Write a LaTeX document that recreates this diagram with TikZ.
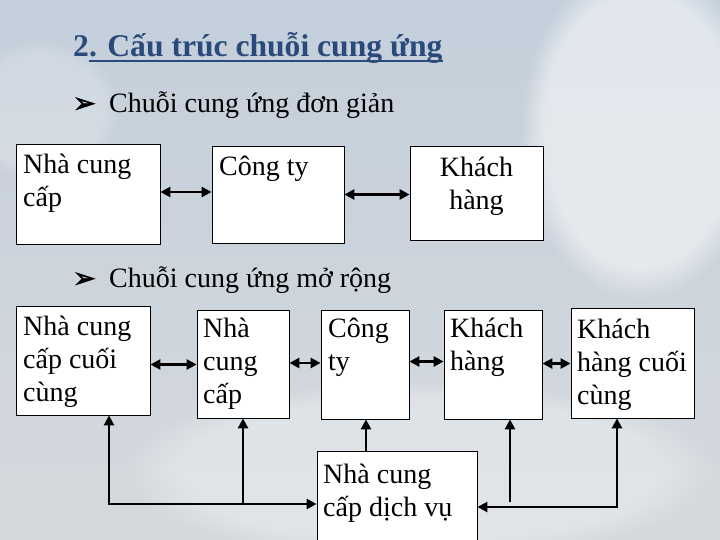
\documentclass[tikz,border=0pt]{standalone}
\usepackage{fontspec}
\setmainfont{Liberation Serif}
\newfontfamily\symbfont{DejaVu Sans}[FakeBold=2.5]
\usetikzlibrary{arrows.meta,fadings}
\definecolor{titleblue}{HTML}{2B4A7C}
\definecolor{skytop}{HTML}{C3CFDB}
\definecolor{skybot}{HTML}{D5D9DD}
\tikzset{
  box/.style={draw=black, line width=0.8pt, fill=white, inner sep=0pt},
  lbl/.style={font=\fontsize{28}{33}\selectfont, align=left, inner sep=0pt, anchor=base west},
  bullet/.style={font=\symbfont\fontsize{27}{27}\selectfont, inner sep=0pt, anchor=west},
  conn/.style={line width=2.6pt, black, line join=miter},
  cloud/.style={white, path fading=circle with fuzzy edge 20 percent},
}
\begin{document}
\begin{tikzpicture}[x=1pt, y=-1pt, >={Triangle[length=10pt,width=10pt]}]
\useasboundingbox (0,0) rectangle (720,540);
\clip (0,0) rectangle (720,540);
\shade[top color=skytop, bottom color=skybot] (0,0) rectangle (720,540);
\fill[cloud, opacity=0.5] (640,130) ellipse [x radius=120pt, y radius=170pt];
\fill[cloud, opacity=0.2] (40,110) ellipse [x radius=80pt, y radius=70pt];
\fill[cloud, opacity=0.3] (420,470) ellipse [x radius=300pt, y radius=90pt];

% title
\node[anchor=base west, inner sep=0pt, text=titleblue,
      font=\fontsize{31.6}{36}\selectfont\bfseries] (title) at (73,57) {2. Cấu trúc chuỗi cung ứng};
\draw[titleblue, line width=1.8pt] ([xshift=15.8pt,yshift=-4pt]title.base west) -- ([yshift=-4pt]title.base east);

% bullets
\node[bullet] (b1) at (73,105) {➢};
\node[lbl] (t1) at (109,113) {Chuỗi cung ứng đơn giản};
\node[bullet] (b2) at (73,280) {➢};
\node[lbl] (t2) at (109,287) {Chuỗi cung ứng mở rộng};

% simple chain boxes
\node[box, minimum width=144pt, minimum height=100pt] (A) at (88,194) {};
\node[box, minimum width=132pt, minimum height=97pt] (B) at (278,194.5) {};
\node[box, minimum width=133pt, minimum height=94pt] (C) at (476.5,193) {};

% extended chain boxes
\node[box, minimum width=134pt, minimum height=109pt] (D) at (83,360.5) {};
\node[box, minimum width=92pt, minimum height=108pt] (E) at (243,364) {};
\node[box, minimum width=88pt, minimum height=109pt] (F) at (365,364.5) {};
\node[box, minimum width=98pt, minimum height=109pt] (G) at (493,364.5) {};
\node[box, minimum width=123pt, minimum height=110pt] (H) at (632.5,363) {};
\node[box, minimum width=160pt, minimum height=109pt] (S) at (397,505.5) {};

% labels (anchored at the baseline of their last line)
\node[lbl] (Al) at (23,207) {Nhà cung\\cấp};
\node[lbl] (Bl) at (219,176) {Công ty};
\node[lbl, align=center, anchor=base] (Cl) at (476.5,210) {Khách\\hàng};
\node[lbl] (Dl) at (23,401) {Nhà cung\\cấp cuối\\cùng};
\node[lbl] (El) at (203,403) {Nhà\\cung\\cấp};
\node[lbl] (Fl) at (328,370) {Công\\ty};
\node[lbl] (Gl) at (450,370) {Khách\\hàng};
\node[lbl] (Hl) at (577,404) {Khách\\hàng cuối\\cùng};
\node[lbl] (Sl) at (323,516) {Nhà cung\\cấp dịch vụ};

% connectors, simple chain
\draw[conn,<->] ([yshift=2pt]A.east) -- ([yshift=2pt]A.east -| B.west);
\draw[conn,<->] (B.east) -- (B.east -| C.west);

% connectors, extended chain
\draw[conn,<->] ([yshift=-4pt]D.east) -- ([yshift=-4pt]D.east -| E.west);
\draw[conn,<->] ([yshift=1pt]E.east) -- ([yshift=1pt]E.east -| F.west);
\draw[conn,<->] ([yshift=3pt]F.east) -- ([yshift=3pt]F.east -| G.west);
\draw[conn,<->] ([yshift=1pt]G.east) -- ([yshift=1pt]G.east -| H.west);

\coordinate (bl) at (109,504);
\coordinate (br) at (617,507);
\coordinate (gb) at (510,502);
\draw[conn,<->] (bl |- D.south) -- (bl) -- (bl -| S.west);
\draw[conn,->] (bl -| E.south) -- (E.south);
\draw[conn,->] ([xshift=1pt]S.north -| F.south) -- ([xshift=1pt]F.south);
\draw[conn,<->] (br |- H.south) -- (br) -- (br -| S.east);
\draw[conn,->] (gb) -- (gb |- G.south);
\end{tikzpicture}
\end{document}
